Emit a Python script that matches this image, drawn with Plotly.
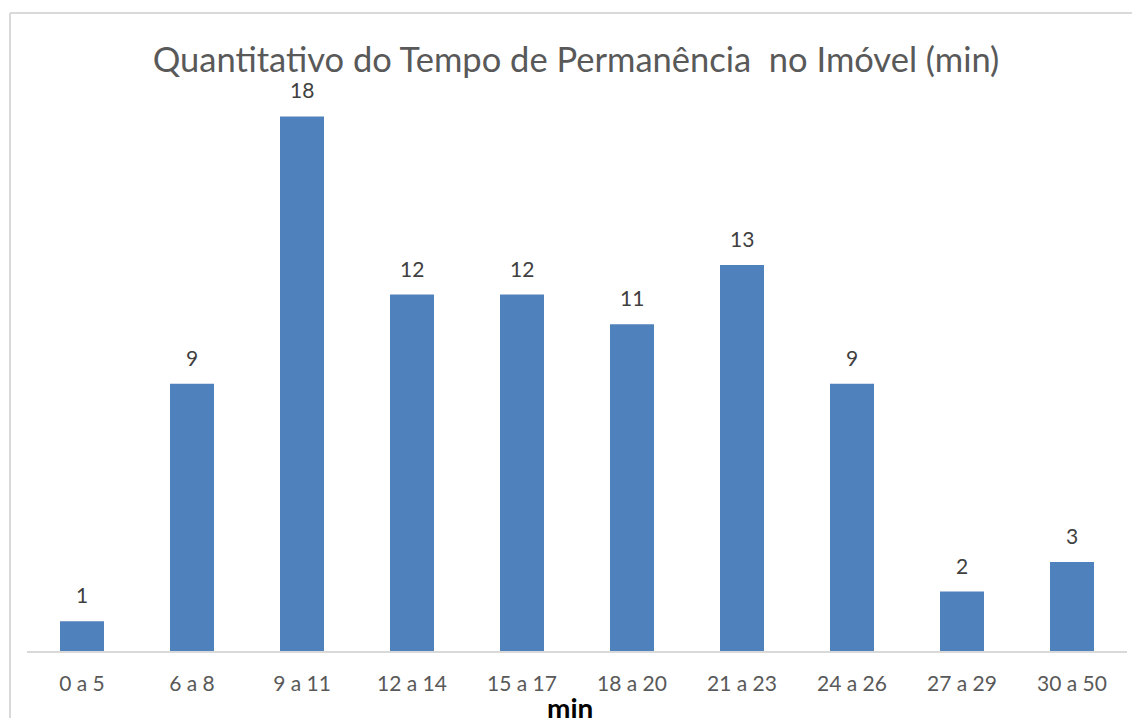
import plotly.graph_objects as go

categories = ["0 a 5", "6 a 8", "9 a 11", "12 a 14", "15 a 17", "18 a 20", "21 a 23", "24 a 26", "27 a 29", "30 a 50"]
values = [1, 9, 18, 12, 12, 11, 13, 9, 2, 3]

FONT = "Lato, Open Sans, sans-serif"

fig = go.Figure(go.Bar(
    x=categories, y=values,
    marker=dict(color="#4F81BD", line=dict(width=0)),
    width=0.4,
    cliponaxis=False,
    hoverinfo="skip",
))

for c, v in zip(categories, values):
    fig.add_annotation(x=c, y=v, text=str(v), showarrow=False, yanchor="bottom",
                       yshift=12, font=dict(size=21, color="#404040", family=FONT))

W, H = 1132, 718
L, R, T, B = 27, 5, 57, 67
PW, PH = W - L - R, H - T - B

fig.update_layout(
    width=W, height=H,
    margin=dict(l=L, r=R, t=T, b=B),
    paper_bgcolor="white", plot_bgcolor="white",
    showlegend=False,
    title=dict(text="Quantitativo do Tempo de Permanência&nbsp; no Imóvel (min)",
               x=576 / W, xanchor="center", y=1 - 60 / H, yanchor="middle",
               font=dict(size=34.5, color="#595959", family=FONT)),
    xaxis=dict(showline=True, linecolor="#D9D9D9", linewidth=2, ticks="",
               tickfont=dict(size=21, color="#595959", family=FONT),
               ticklabelstandoff=13,
               showgrid=False, zeroline=False),
    yaxis=dict(range=[0, 20], visible=False, showgrid=False),
    bargap=0.6,
)

# x-axis title (partially cut at bottom as in the original)
fig.add_annotation(xref="paper", yref="paper", x=(570 - L) / PW, y=(H - B - 689) / PH, yanchor="top",
                   text="<b>min</b>", showarrow=False,
                   font=dict(size=28, color="#000000", family=FONT))

# chart border (partially visible)
fig.add_shape(type="line", xref="paper", yref="paper",
              x0=(10 - L) / PW, x1=(10 - L) / PW, y0=(H - B - 730) / PH, y1=(H - B - 13) / PH,
              line=dict(color="#D9D9D9", width=2))
fig.add_shape(type="line", xref="paper", yref="paper",
              x0=(10 - L) / PW, x1=(1140 - L) / PW, y0=(H - B - 13) / PH, y1=(H - B - 13) / PH,
              line=dict(color="#D9D9D9", width=2))

fig.write_html("out.html", config={"displayModeBar": False},
               post_script="document.body.style.margin='0';")
